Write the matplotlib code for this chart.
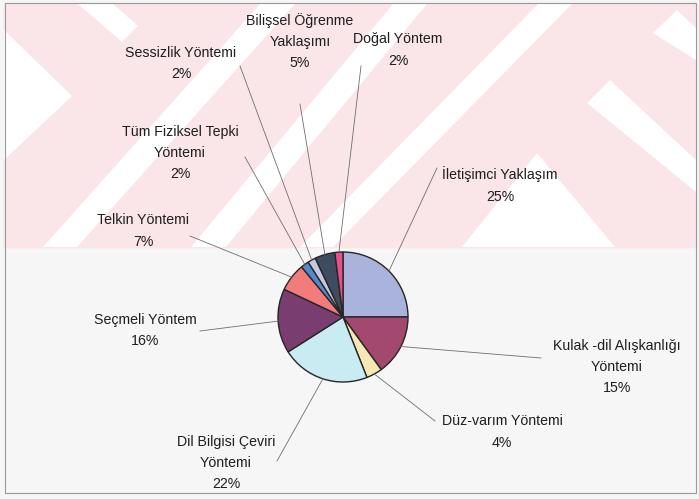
import numpy as np
import matplotlib
matplotlib.use("Agg")
import matplotlib.pyplot as plt
from matplotlib.patches import Polygon, Rectangle

plt.rcParams['font.family'] = ['Liberation Sans', 'DejaVu Sans']

W, H = 699, 499

# slices, clockwise from 12 o'clock
labels = ['İletişimci Yaklaşım', 'Kulak -dil Alışkanlığı\nYöntemi', 'Düz-varım Yöntemi',
          'Dil Bilgisi Çeviri\nYöntemi', 'Seçmeli Yöntem', 'Telkin Yöntemi',
          'Tüm Fiziksel Tepki\nYöntemi', 'Sessizlik Yöntemi', 'Bilişsel Öğrenme\nYaklaşımı',
          'Doğal Yöntem']
values = [25, 15, 4, 22, 16, 7, 2, 2, 5, 2]
colors = ['#a9b3dc', '#a3486e', '#f6e8b2', '#c9ebf2', '#7a3d70',
          '#f27c7c', '#4e8ccc', '#c5c8e0', '#3f4b5e', '#e6508c']

# label block centres and leader-line start points (image pixels, y down)
label_xy = [(500, 185), (617, 367), (502, 432), (226, 463), (145, 330.5),
            (143, 231), (180, 153), (181, 63.5), (300, 41.5), (398, 50)]
line_start = [(437, 168), (541, 358), (435, 421), (277, 461), (200, 331),
              (190, 236), (245, 157), (240, 66), (300, 104), (361, 66)]

pie_center = (343, 317)
pie_radius = 65


def fy(y):
    return H - y


fig = plt.figure(figsize=(W / 100, H / 100), dpi=100)
ax = fig.add_axes([0, 0, 1, 1])

# scanned page background with faint watermark
ax.add_patch(Rectangle((0, 0), W, H, color='#f6f6f6', zorder=0))
ax.add_patch(Rectangle((4, fy(247)), 692, 244, color='#fae5e8', zorder=0.1))
marks = [
    [(4, 30), (72, 96), (4, 160)],
    [(78, 4), (113, 4), (138, 26), (122, 42)],
    [(43, 247), (77, 247), (295, 4), (260, 4)],
    [(191, 247), (226, 247), (427, 4), (393, 4)],
    [(300, 247), (333, 247), (572, 4), (538, 4)],
    [(587, 103), (610, 80), (696, 160), (696, 192)],
    [(653, 33), (677, 10), (696, 28), (696, 60)],
    [(537, 153), (462, 247), (615, 247)],
]
for m in marks:
    ax.add_patch(Polygon([(x, fy(y)) for x, y in m], closed=True,
                         color='white', zorder=0.2, lw=0))
ax.add_patch(Rectangle((5, fy(493)), 691, 490, fill=False,
                       edgecolor='#9a9a9a', lw=0.8, zorder=0.3))

cx, cy = pie_center[0], fy(pie_center[1])
wedges, _ = ax.pie(values, colors=colors, startangle=90, counterclock=False,
                   center=(cx, cy), radius=pie_radius, frame=True,
                   wedgeprops=dict(edgecolor='#262626', linewidth=1.0))

for w, v, lab, (lx, ly), (sx, sy) in zip(wedges, values, labels, label_xy, line_start):
    a = np.deg2rad((w.theta1 + w.theta2) / 2)
    ex, ey = cx + pie_radius * np.cos(a), cy + pie_radius * np.sin(a)
    ax.plot([sx, ex], [fy(sy), ey], color='#6e6e6e', lw=0.6, zorder=1)
    ax.text(lx, fy(ly), f'{lab}\n{v}%', ha='center', va='center',
            multialignment='center', fontsize=10.2, color='#1e1e1e',
            linespacing=1.65, zorder=3)

ax.set_xlim(0, W)
ax.set_ylim(0, H)
ax.set_aspect('equal')
ax.axis('off')

fig.savefig('out.png', dpi=100)
